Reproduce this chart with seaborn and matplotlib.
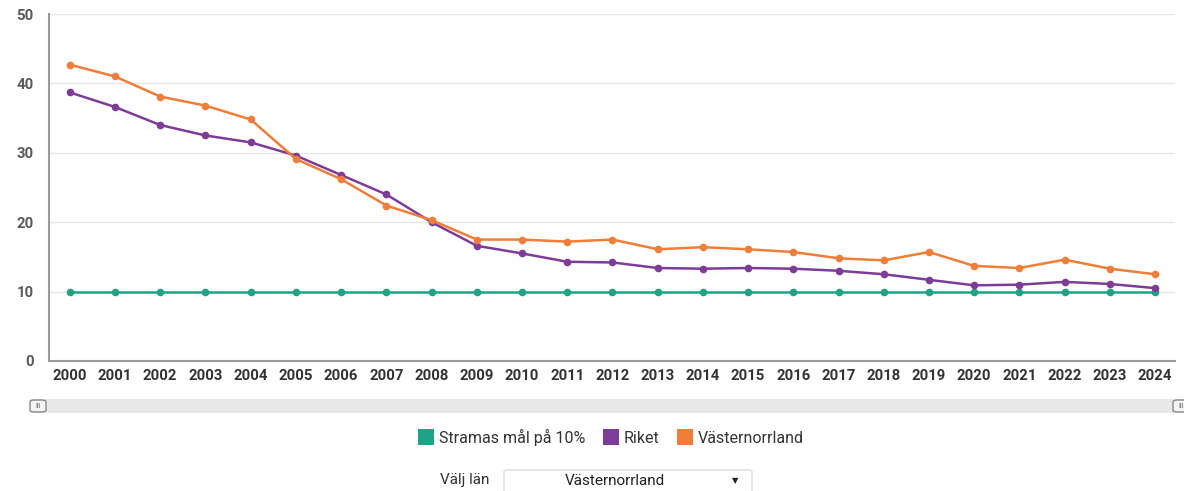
import matplotlib
matplotlib.use("Agg")
import matplotlib.pyplot as plt
from matplotlib.patches import Rectangle, FancyBboxPatch
from matplotlib.lines import Line2D
import seaborn as sns
import pandas as pd

years = [str(y) for y in range(2000, 2025)]
stramas = [10] * 25
riket = [38.7, 36.6, 34.0, 32.5, 31.5, 29.6, 26.8, 24.0, 20.0, 16.6,
         15.5, 14.3, 14.2, 13.4, 13.3, 13.4, 13.3, 13.0, 12.5, 11.7,
         10.9, 11.0, 11.4, 11.1, 10.5]
vasternorrland = [42.7, 41.0, 38.1, 36.8, 34.8, 29.1, 26.2, 22.4, 20.3, 17.5,
                  17.5, 17.2, 17.5, 16.1, 16.4, 16.1, 15.7, 14.8, 14.5, 15.7,
                  13.7, 13.4, 14.6, 13.3, 12.5]
series_names = ["Stramas mål på 10%", "Riket", "Västernorrland"]
colors = ["#1fa385", "#7d3c98", "#f07d38"]

sns.set_theme(style="white")
plt.rcParams["font.family"] = ["Roboto", "DejaVu Sans"]

df = pd.DataFrame({
    "year": years * 3,
    "pos": list(range(25)) * 3,
    "value": stramas + riket + vasternorrland,
    "series": [series_names[0]] * 25 + [series_names[1]] * 25 + [series_names[2]] * 25,
})

fig = plt.figure(figsize=(11.84, 4.91), dpi=100)
ax = fig.add_axes([49 / 1184, 1 - 361 / 491, (1175 - 49) / 1184, (361 - 14) / 491])

sns.lineplot(data=df, x="pos", y="value", hue="series", hue_order=series_names,
             palette=colors, marker="o", markersize=5.5, markeredgewidth=0,
             linewidth=1.8, ax=ax, legend=False, zorder=3)

ax.set_xlim(-0.46, 24.44)
ax.set_ylim(0, 50)
ax.set_yticks([0, 10, 20, 30, 40, 50])
ax.set_xticks(range(25))
ax.set_xticklabels(years)
ax.set_xlabel("")
ax.set_ylabel("")
ax.grid(axis="y", color="#e6e6e6", linewidth=1)
ax.set_axisbelow(True)
for s in ["top", "right"]:
    ax.spines[s].set_visible(False)
for s in ["left", "bottom"]:
    ax.spines[s].set_color("#999999")
    ax.spines[s].set_linewidth(1.5)
ax.tick_params(axis="x", length=4, width=1, color="#999999", colors="#333333",
               labelsize=10.7, pad=2)
ax.tick_params(axis="y", length=0, colors="#5a5a5a", labelsize=10.7, pad=11)
for lbl in ax.get_xticklabels() + ax.get_yticklabels():
    lbl.set_fontweight("semibold")

# scrollbar
fig.patches.append(Rectangle((30 / 1184, 1 - 413 / 491), (1184 - 30) / 1184, 14 / 491,
                             transform=fig.transFigure, facecolor="#e8e8e8",
                             edgecolor="none", zorder=0))
for x0 in [30, 1173]:
    fig.patches.append(FancyBboxPatch((x0 / 1184, 1 - 412 / 491), 16 / 1184, 12 / 491,
                                      boxstyle="round,pad=0,rounding_size=0.004",
                                      transform=fig.transFigure, facecolor="#f4f4f4",
                                      edgecolor="#888888", linewidth=1, zorder=1))
    fig.text((x0 + 8) / 1184, 1 - 406 / 491, "III", fontsize=5, color="#666666",
             ha="center", va="center")

# legend
handles = [Line2D([0], [0], marker="s", linestyle="none", markersize=11,
                  markerfacecolor=c, markeredgewidth=0) for c in colors]
fig.legend(handles, series_names, loc="center", bbox_to_anchor=(611 / 1184, 1 - 437 / 491),
           ncol=3, frameon=False, fontsize=11.5, handletextpad=0.3, columnspacing=1.1,
           handlelength=1.0, labelcolor="#333333")

# dropdown
fig.text(465 / 1184, 1 - 480 / 491, "Välj län", fontsize=11, color="#333333",
         ha="center", va="center")
fig.patches.append(FancyBboxPatch((504 / 1184, 1 - 500 / 491), 248 / 1184, 30 / 491,
                                  boxstyle="round,pad=0,rounding_size=0.003",
                                  transform=fig.transFigure, facecolor="white",
                                  edgecolor="#dddddd", linewidth=1, zorder=1))
fig.text(615 / 1184, 1 - 481 / 491, "Västernorrland", fontsize=11, color="#222222",
         ha="center", va="center")
fig.text(735 / 1184, 1 - 481 / 491, "▼", fontsize=6, color="#222222",
         ha="center", va="center", family="DejaVu Sans")

fig.savefig("out.png", dpi=100)
